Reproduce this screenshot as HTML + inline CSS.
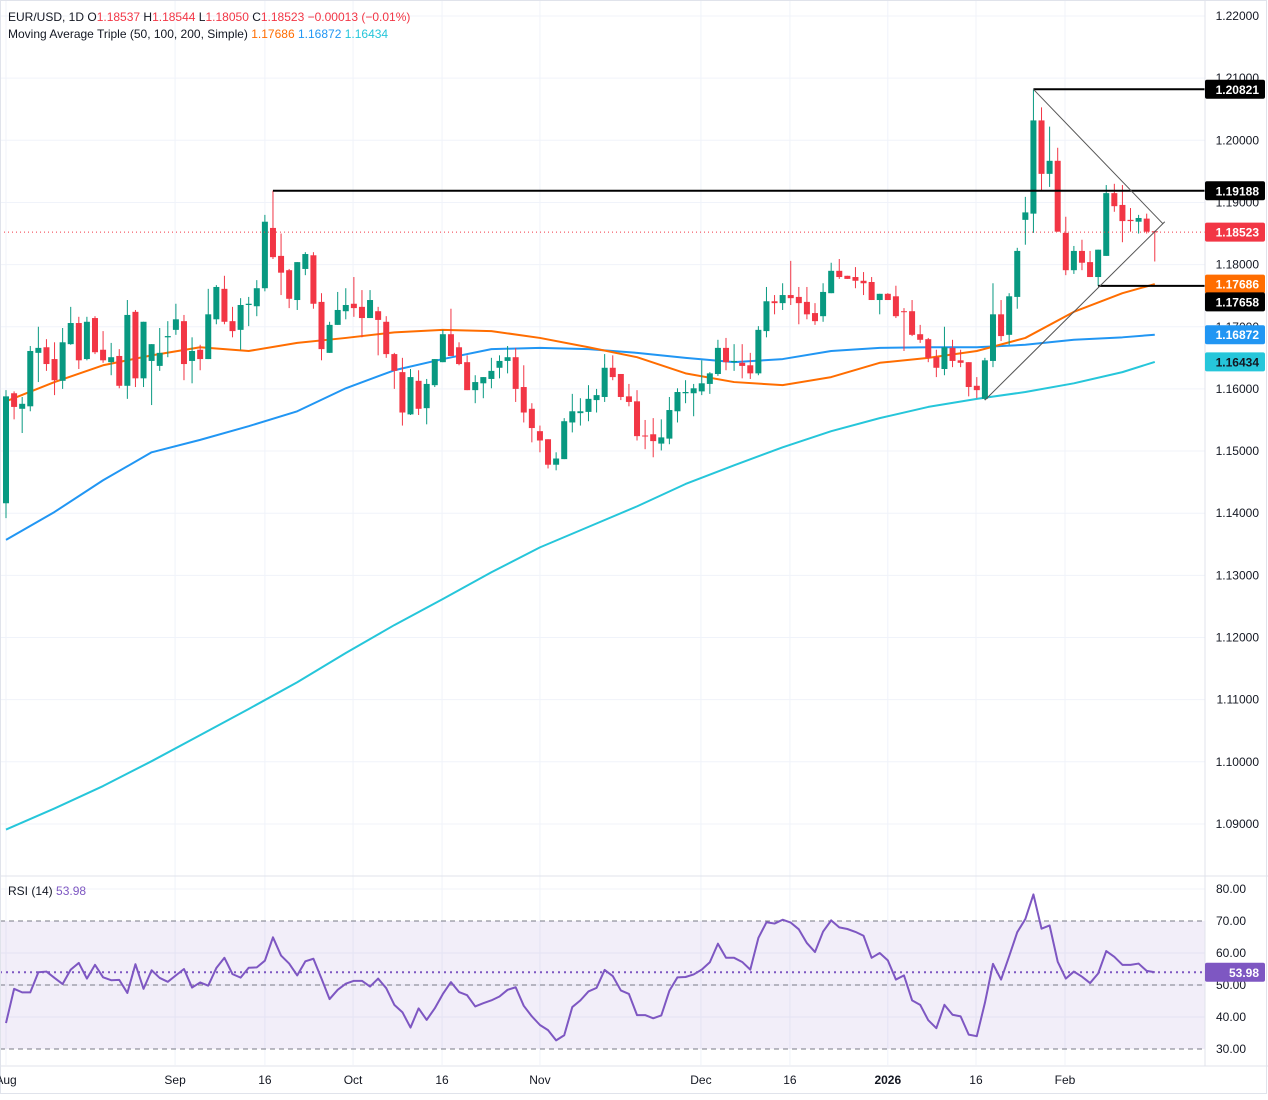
<!DOCTYPE html>
<html><head><meta charset="utf-8"><style>
html,body{margin:0;padding:0;background:#fff;}
body{width:1268px;height:1095px;overflow:hidden;font-family:"Liberation Sans",sans-serif;}
svg text{font-family:"Liberation Sans",sans-serif;}
</style></head><body>
<svg id="chart" width="1268" height="1095" viewBox="0 0 1268 1095" xmlns="http://www.w3.org/2000/svg">
<rect x="0" y="0" width="1268" height="1095" fill="#fff"/>
<g id="grid"></g>
<g id="rsiBand"></g>
<g id="mas"></g>
<g id="candles"></g>
<g id="annot"></g>
<g id="rsi"></g>
<g id="axes"></g>
<g font-size="12">
<text x="8" y="21" fill="#131722">EUR/USD, 1D  O<tspan fill="#f23645">1.18537</tspan>  H<tspan fill="#f23645">1.18544</tspan>  L<tspan fill="#f23645">1.18050</tspan>  C<tspan fill="#f23645">1.18523</tspan>  <tspan fill="#f23645">−0.00013 (−0.01%)</tspan></text>
<text x="8" y="38" fill="#131722">Moving Average Triple (50, 100, 200, Simple)  <tspan fill="#ff6d00">1.17686</tspan>  <tspan fill="#2196f3">1.16872</tspan>  <tspan fill="#26c6da">1.16434</tspan></text>
<text x="8" y="895" fill="#131722">RSI (14)  <tspan fill="#7e57c2">53.98</tspan></text>
</g>
</svg>
<script>
const opens=[1.1416,1.1593,1.1568,1.1572,1.1658,1.1667,1.1648,1.1613,1.1672,1.1706,1.1648,1.1714,1.1663,1.1643,1.1653,1.1605,1.1724,1.1617,1.1645,1.1637,1.1683,1.1695,1.1709,1.1645,1.1663,1.1648,1.1712,1.1761,1.1709,1.1695,1.1735,1.1733,1.1762,1.1859,1.1814,1.1791,1.1743,1.1793,1.1815,1.1740,1.1658,1.1703,1.1725,1.1737,1.1732,1.1714,1.1725,1.1708,1.1656,1.1627,1.1559,1.1613,1.1569,1.1606,1.1643,1.1688,1.1667,1.1643,1.1598,1.1609,1.1616,1.1634,1.1645,1.1651,1.1603,1.1568,1.1532,1.1519,1.1478,1.1487,1.1546,1.1561,1.1563,1.1582,1.1587,1.1634,1.1624,1.1588,1.1580,1.1525,1.1527,1.1512,1.1520,1.1564,1.1593,1.1593,1.1596,1.1608,1.1624,1.1666,1.1643,1.1642,1.1638,1.1625,1.1693,1.1741,1.1738,1.1751,1.1748,1.1740,1.1722,1.1717,1.1754,1.1790,1.1782,1.1780,1.1774,1.1772,1.1743,1.1753,1.1749,1.1725,1.1725,1.1688,1.1680,1.1651,1.1632,1.1666,1.1646,1.1643,1.1605,1.1584,1.1645,1.1720,1.1687,1.1748,1.1872,1.1882,1.2032,1.1946,1.1967,1.1851,1.1791,1.1822,1.1804,1.1780,1.1814,1.1915,1.1896,1.1872,1.1869,1.1874,1.18537];
const closes=[1.1588,1.1571,1.1576,1.1661,1.1666,1.1640,1.1614,1.1675,1.1706,1.1646,1.1708,1.1659,1.1646,1.1651,1.1605,1.1719,1.1617,1.1708,1.1672,1.1658,1.1685,1.1712,1.1640,1.1661,1.1648,1.1720,1.1764,1.1708,1.1693,1.1735,1.1737,1.1762,1.1869,1.1812,1.1787,1.1745,1.1804,1.1817,1.1737,1.1664,1.1703,1.1727,1.1735,1.1730,1.1714,1.1743,1.1711,1.1656,1.1629,1.1562,1.1619,1.1568,1.1608,1.1648,1.1688,1.1653,1.1640,1.1598,1.1611,1.1619,1.1629,1.1645,1.1651,1.1600,1.1562,1.1537,1.1517,1.1478,1.1488,1.1548,1.1564,1.1564,1.1584,1.1590,1.1634,1.1619,1.1587,1.1579,1.1524,1.1524,1.1516,1.1522,1.1566,1.1595,1.1595,1.1601,1.1609,1.1625,1.1666,1.1643,1.1645,1.1637,1.1625,1.1695,1.1741,1.1738,1.1751,1.1746,1.1738,1.1720,1.1709,1.1756,1.1790,1.1780,1.1777,1.1774,1.1770,1.1743,1.1753,1.1743,1.1717,1.1724,1.1687,1.1679,1.1650,1.1634,1.1667,1.1645,1.1642,1.1603,1.1598,1.1646,1.1720,1.1685,1.1749,1.1822,1.1884,1.2032,1.1946,1.1967,1.1853,1.1791,1.1822,1.1803,1.1780,1.1824,1.1915,1.1894,1.1870,1.1870,1.1875,1.1853,1.18523];
const highs=[1.1598,1.1596,1.1587,1.1669,1.1700,1.1680,1.1675,1.1698,1.1732,1.1716,1.1716,1.1717,1.1693,1.1674,1.1664,1.1743,1.1727,1.1708,1.1672,1.1698,1.1709,1.1737,1.1719,1.1683,1.1671,1.1761,1.1767,1.1782,1.1732,1.1746,1.1748,1.1775,1.1880,1.1919,1.1850,1.1793,1.1804,1.1820,1.1820,1.1754,1.1708,1.1756,1.1762,1.1780,1.1759,1.1759,1.1732,1.1717,1.1658,1.1650,1.1632,1.1630,1.1616,1.1648,1.1695,1.1729,1.1675,1.1654,1.1622,1.1619,1.1650,1.1654,1.1669,1.1666,1.1638,1.1577,1.1541,1.1519,1.1498,1.1553,1.1592,1.1585,1.1606,1.1600,1.1656,1.1654,1.1624,1.1608,1.1598,1.1550,1.1553,1.1551,1.1587,1.1601,1.1614,1.1608,1.1646,1.1627,1.1679,1.1682,1.1672,1.1672,1.1658,1.1701,1.1764,1.1751,1.1770,1.1806,1.1764,1.1764,1.1738,1.1770,1.1803,1.1809,1.1782,1.1796,1.1788,1.1780,1.1753,1.1754,1.1766,1.1730,1.1743,1.1703,1.1682,1.1663,1.1700,1.1679,1.1663,1.1643,1.1619,1.1650,1.1770,1.1743,1.1754,1.1827,1.1909,1.2082,1.2053,1.2022,1.1988,1.1877,1.1830,1.1840,1.1822,1.1824,1.1928,1.1930,1.1928,1.1891,1.1880,1.1882,1.18544];
const lows=[1.1392,1.1551,1.1529,1.1564,1.1611,1.1629,1.1590,1.1600,1.1671,1.1632,1.1646,1.1656,1.1642,1.1622,1.1601,1.1584,1.1603,1.1603,1.1574,1.1629,1.1651,1.1687,1.1614,1.1609,1.1630,1.1648,1.1704,1.1704,1.1683,1.1663,1.1701,1.1717,1.1757,1.1809,1.1751,1.1730,1.1727,1.1783,1.1729,1.1646,1.1658,1.1703,1.1712,1.1716,1.1683,1.1714,1.1654,1.1650,1.1600,1.1541,1.1558,1.1558,1.1543,1.1603,1.1643,1.1653,1.1638,1.1598,1.1577,1.1585,1.1601,1.1617,1.1625,1.1579,1.1546,1.1514,1.1498,1.1472,1.1469,1.1487,1.1530,1.1541,1.1548,1.1562,1.1579,1.1614,1.1582,1.1572,1.1517,1.1503,1.1490,1.1501,1.1511,1.1546,1.1577,1.1556,1.1590,1.1592,1.1621,1.1630,1.1629,1.1617,1.1616,1.1622,1.1683,1.1720,1.1727,1.1735,1.1704,1.1712,1.1703,1.1708,1.1754,1.1777,1.1777,1.1762,1.1751,1.1743,1.1720,1.1743,1.1714,1.1661,1.1685,1.1674,1.1643,1.1619,1.1622,1.1635,1.1635,1.1588,1.1585,1.1582,1.1635,1.1677,1.1671,1.1729,1.1832,1.1851,1.1920,1.1925,1.1853,1.1783,1.1785,1.1791,1.1780,1.1766,1.1814,1.1885,1.1836,1.1853,1.1850,1.1850,1.18050];
const maIdx=[0,6,12,18,24,30,36,42,48,54,60,66,72,78,84,90,96,102,108,114,120,126,132,138,142];
const ma50=[1.1580,1.1611,1.1638,1.1654,1.1667,1.1661,1.1674,1.1682,1.1691,1.1695,1.1693,1.1682,1.1667,1.1651,1.1625,1.1611,1.1606,1.1619,1.1642,1.1650,1.1661,1.1682,1.1724,1.1754,1.17686];
const ma100=[1.1357,1.1402,1.1453,1.1498,1.1518,1.1540,1.1564,1.1601,1.1630,1.1648,1.1664,1.1666,1.1664,1.1658,1.1650,1.1643,1.1648,1.1661,1.1666,1.1667,1.1667,1.1671,1.1679,1.1683,1.16872];
const ma200=[1.0891,1.0925,1.0961,1.1001,1.1043,1.1085,1.1128,1.1175,1.1220,1.1262,1.1305,1.1345,1.1378,1.1411,1.1447,1.1477,1.1506,1.1532,1.1553,1.1571,1.1584,1.1595,1.1609,1.1627,1.16434];
const rsiVals=[38.1,48.8,47.7,47.7,54.0,54.2,52.2,50.3,54.8,56.9,52.0,56.3,52.4,51.5,51.6,47.5,56.5,48.8,54.6,52.2,51.0,53.0,55.0,49.2,50.8,49.8,55.3,58.5,53.4,52.3,55.4,55.5,57.6,64.9,59.2,56.7,53.0,57.4,58.2,52.0,45.6,48.5,50.4,51.3,51.3,49.5,52.0,49.0,43.8,41.5,36.7,42.7,39.1,42.7,47.2,50.9,47.8,46.8,43.3,44.3,45.2,46.4,48.5,49.3,43.5,40.2,37.5,35.9,32.7,34.3,43.1,45.2,
48.0,49.1,54.7,52.8,48.3,47.2,40.6,40.6,39.6,40.5,48.2,52.4,52.5,53.3,54.8,57.1,62.9,58.5,58.5,57.2,54.8,64.7,69.6,69.2,70.4,69.5,67.4,63.1,60.3,66.7,70.2,68.0,67.5,66.6,65.4,58.5,60.0,57.7,51.7,53.0,45.2,43.8,39.0,36.5,43.8,40.7,40.2,34.5,34.0,44.4,56.6,51.7,59.0,66.5,70.6,78.3,67.6,68.6,57.3,52.0,54.2,52.6,50.6,53.6,60.6,58.8,56.3,56.3,56.7,54.4,53.98];
const priceTicks=[1.22,1.21,1.20,1.19,1.18,1.17,1.16,1.15,1.14,1.13,1.12,1.11,1.10,1.09];
const rsiTicks=[80,70,60,50,40,30];
const dateLabels=["Aug","Sep","16","Oct","16","Nov","Dec","16","2026","16","Feb"];
const dateIdx=[0,20.9,32,42.9,53.9,66,85.9,96.9,109,119.9,130.9];
const levels=[1.20821,1.19188,1.17658];
const levelStart=[127,33,135];

const NS="http://www.w3.org/2000/svg";
const PL=1205;
const X=i=>6+i*8.09;
const Y=p=>16+(1.22-p)*6215;
const RY=v=>889+(80-v)*3.2;
function mk(tag,attrs,parent){const e=document.createElementNS(NS,tag);for(const k in attrs)e.setAttribute(k,attrs[k]);parent.appendChild(e);return e;}
const grid=document.getElementById('grid'),axes=document.getElementById('axes');
priceTicks.forEach(p=>{const l=mk('line',{x1:0,x2:PL,y1:Y(p),y2:Y(p),stroke:'#f0f3fa','stroke-width':1},grid);

});
rsiTicks.forEach(v=>{if(v===70||v===30)return;const l=mk('line',{x1:0,x2:PL,y1:RY(v),y2:RY(v),stroke:'#f0f3fa'},grid);

});
dateIdx.forEach(d=>{const l=mk('line',{x1:X(d),x2:X(d),y1:0,y2:1065,stroke:'#f0f3fa'},grid);

});
mk('line',{x1:0,x2:1268,y1:876,y2:876,stroke:'#e0e3eb'},axes);
mk('line',{x1:0,x2:1268,y1:1066,y2:1066,stroke:'#e0e3eb'},axes);
mk('line',{x1:PL,x2:PL,y1:0,y2:1066,stroke:'#e0e3eb'},axes);
mk('rect',{x:0.5,y:0.5,width:1266,height:1093,fill:'none',stroke:'#e0e3eb'},axes);
priceTicks.forEach(p=>{const t=mk('text',{x:1259,y:Y(p)+4,'text-anchor':'end','font-size':12,fill:'#131722'},axes);t.textContent=p.toFixed(5);

});
rsiTicks.forEach(v=>{const t=mk('text',{x:1246,y:RY(v)+4,'text-anchor':'end','font-size':12,fill:'#131722'},axes);t.textContent=v.toFixed(2);

});
dateLabels.forEach((s,k)=>{const t=mk('text',{x:X(dateIdx[k]),y:1084,'text-anchor':'middle','font-size':12,fill:'#131722','font-weight':s==='2026'?'bold':'normal'},axes);t.textContent=s;

});
const mas=document.getElementById('mas');
[[ma200,'#26c6da','ma200-line'],[ma100,'#2196f3','ma100-line'],[ma50,'#ff6d00','ma50-line']].forEach(([arr,c,n])=>{
const pts=arr.map((v,k)=>X(maIdx[k])+','+Y(v)).join(' ');
const pl=mk('polyline',{points:pts,fill:'none',stroke:c,'stroke-width':2,'stroke-linejoin':'round'},mas);

});
const cg=document.getElementById('candles');
opens.forEach((o,i)=>{const c=closes[i],up=c>=o,col=up?'#089981':'#f23645',x=X(i);
const w=mk('line',{x1:x,x2:x,y1:Y(highs[i]),y2:Y(lows[i]),stroke:col,'stroke-width':1},cg);


const top=Y(Math.max(o,c)),h=Math.max(1,Math.abs(Y(o)-Y(c)));
const b=mk('rect',{x:x-3,y:top,width:6,height:h,fill:col},cg);

});
const an=document.getElementById('annot');
const last=closes[closes.length-1];
const dl=mk('line',{x1:0,x2:PL,y1:Y(last),y2:Y(last),stroke:'#f23645','stroke-dasharray':'1 3'},an);


levels.forEach((p,k)=>{const l=mk('line',{x1:X(levelStart[k]),x2:PL,y1:Y(p),y2:Y(p),stroke:'#000','stroke-width':2},an);

});
const tl1=mk('line',{x1:X(127),y1:Y(highs[127]),x2:X(142)+8,y2:Y(1.1866),stroke:'#555','stroke-width':1},an);


const tl2=mk('line',{x1:X(121),y1:Y(lows[121]),x2:X(142)+10,y2:Y(1.1869),stroke:'#555','stroke-width':1},an);


function badge(p,bg,fg,name,yfn,txt){const y=yfn(p);
const r=mk('rect',{x:1205,y:y-9.5,width:60,height:19,rx:2,fill:bg},axes);


const t=mk('text',{x:1259,y:y+4.5,'text-anchor':'end','font-size':12,'font-weight':'bold',fill:fg},axes);t.textContent=txt;}
badge(1.20821,'#000','#fff','high-level-badge',Y,'1.20821');
badge(1.19188,'#000','#fff','resistance-badge',Y,'1.19188');
badge(last,'#f23645','#fff','last-price-badge',Y,'1.18523');
badge(ma50[ma50.length-1],'#ff6d00','#fff','ma50-badge',Y,'1.17686');
badge(1.17658,'#000','#fff','support-badge',v=>Y(v)+16,'1.17658');
badge(ma100[ma100.length-1],'#2196f3','#fff','ma100-badge',Y,'1.16872');
badge(ma200[ma200.length-1],'#26c6da','#131722','ma200-badge',Y,'1.16434');
const rg=document.getElementById('rsiBand');
const band=mk('rect',{x:0,y:RY(70),width:PL,height:RY(30)-RY(70),fill:'rgba(126,87,194,0.1)'},rg);


const rp=document.getElementById('rsi');
[70,30].forEach(v=>{const l=mk('line',{x1:0,x2:PL,y1:RY(v),y2:RY(v),stroke:'#787b86','stroke-dasharray':'5 4'},rp);

});
const ml=mk('line',{x1:0,x2:PL,y1:RY(50),y2:RY(50),stroke:'#787b86','stroke-dasharray':'5 4'},rp);


const rl=mk('line',{x1:0,x2:PL,y1:RY(rsiVals[rsiVals.length-1]),y2:RY(rsiVals[rsiVals.length-1]),stroke:'#7e57c2','stroke-dasharray':'2 4','stroke-width':2},rp);


const rpl=mk('polyline',{points:rsiVals.map((v,i)=>X(i)+','+RY(v)).join(' '),fill:'none',stroke:'#7e57c2','stroke-width':2,'stroke-linejoin':'round'},rp);


badge(rsiVals[rsiVals.length-1],'#7e57c2','#fff','rsi-badge',RY,'53.98');
</script>
</body></html>
